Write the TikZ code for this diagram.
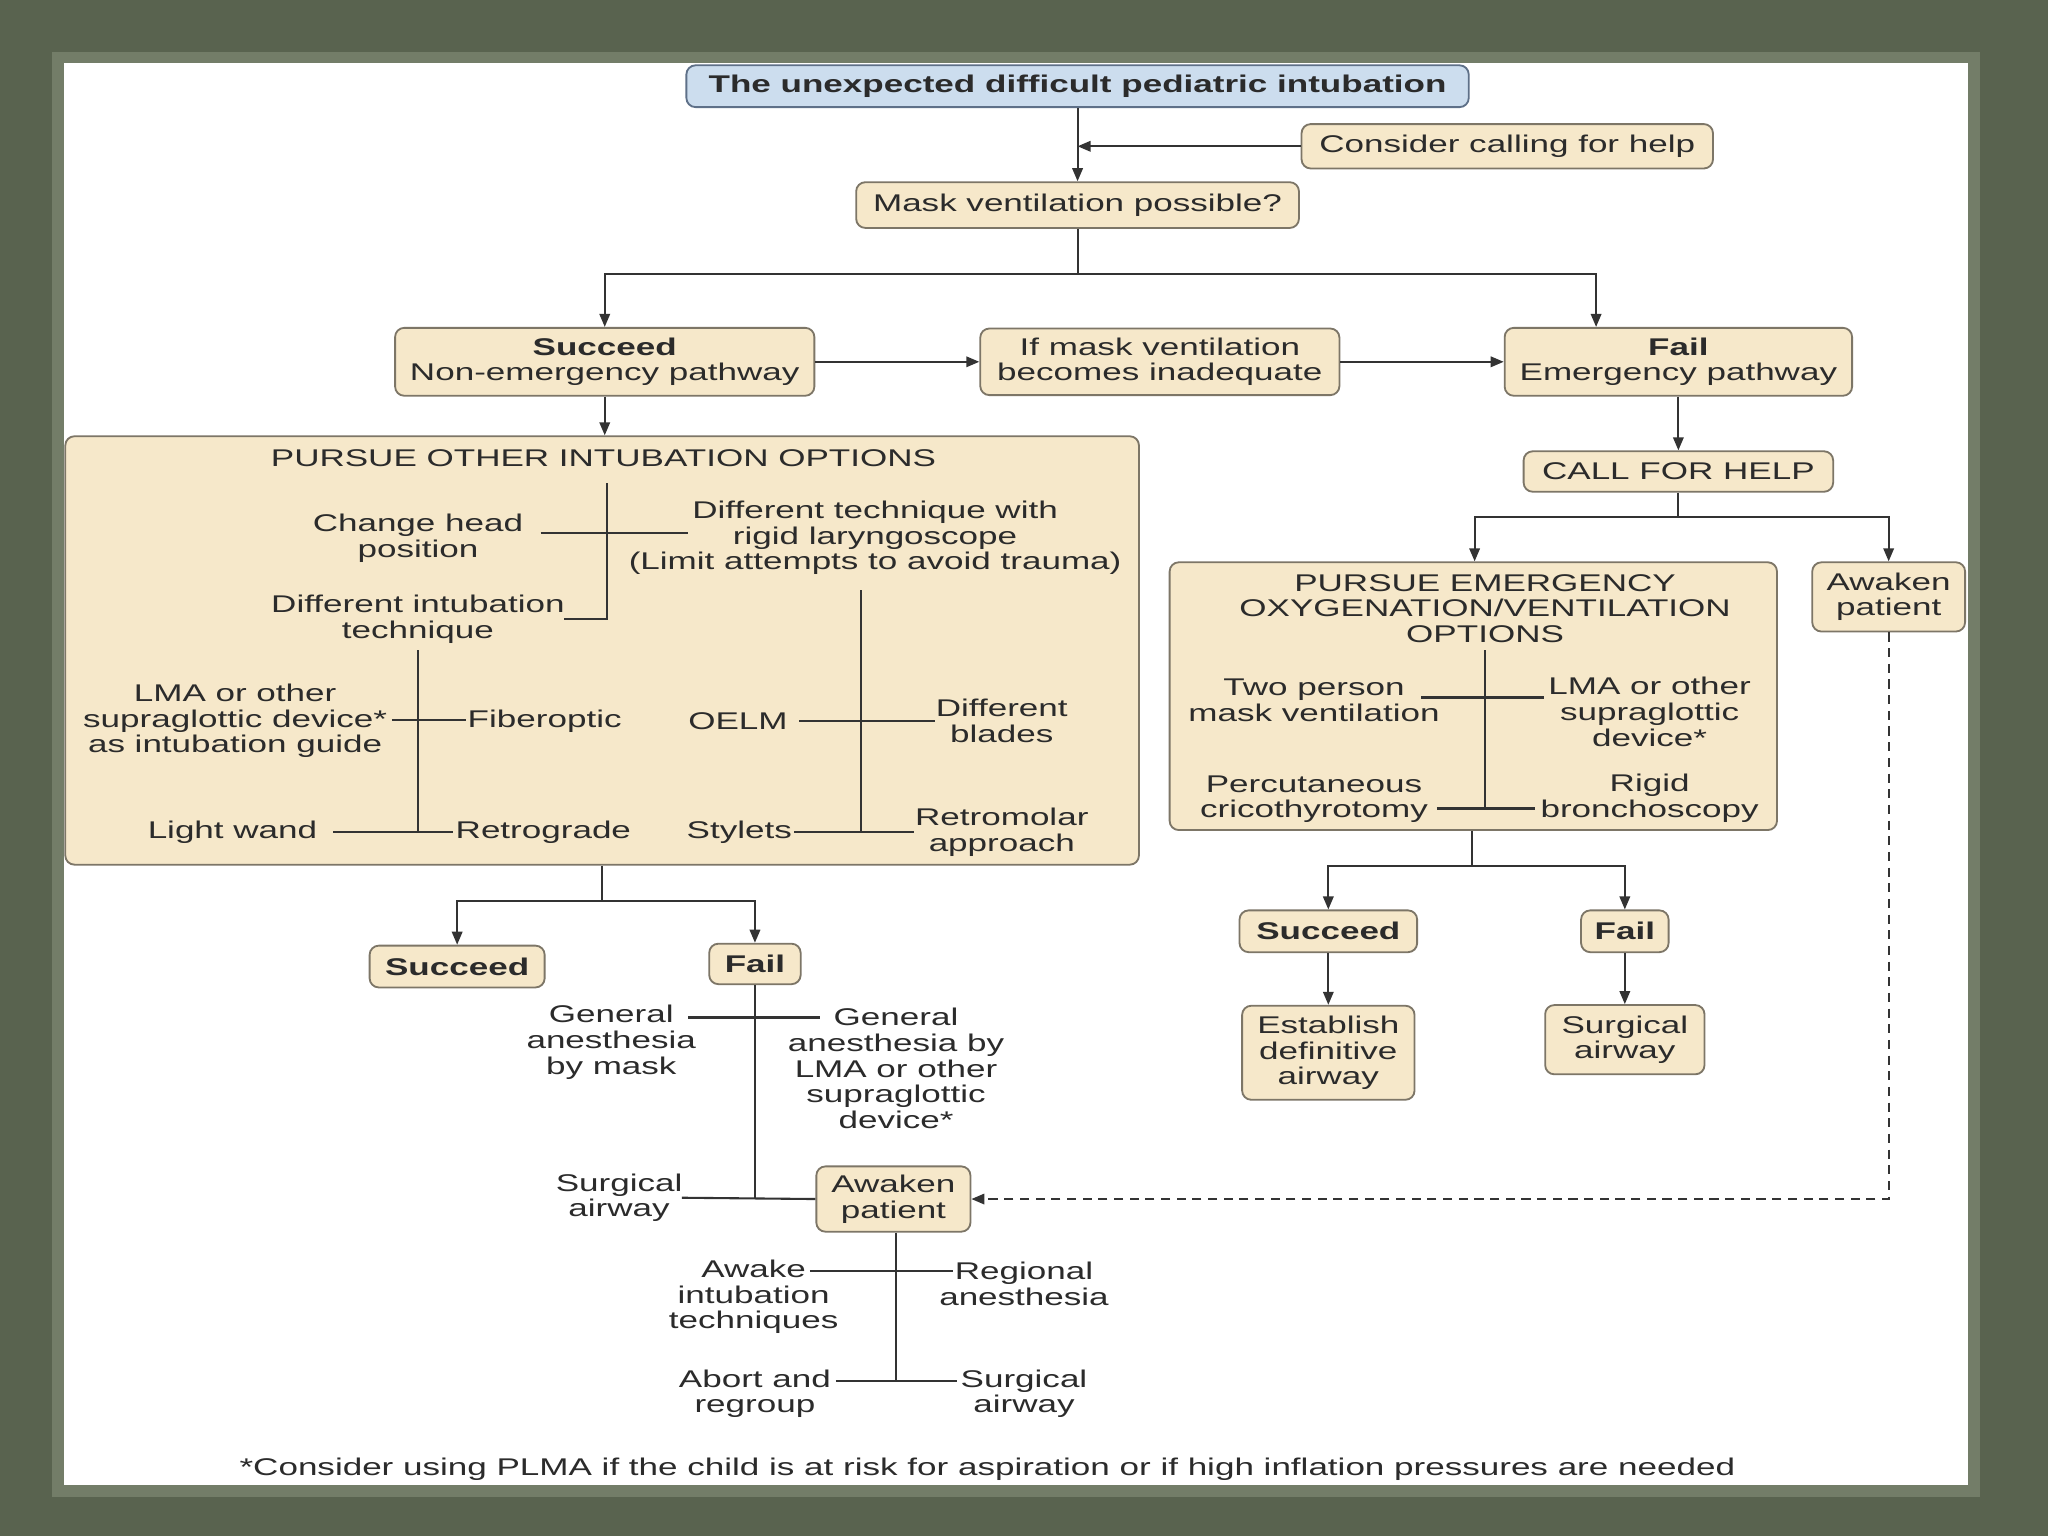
\documentclass[tikz,border=0pt]{standalone}
\usepackage{fontspec}
\setmainfont[FakeStretch=1.45]{Liberation Sans}
\usetikzlibrary{arrows.meta}
\definecolor{bgc}{HTML}{59634F}
\definecolor{bgl}{HTML}{737D68}
\definecolor{boxfill}{HTML}{F6E8CA}
\definecolor{boxline}{HTML}{7D7667}
\definecolor{titfill}{HTML}{CCDDEE}
\definecolor{titline}{HTML}{5E7088}
\definecolor{txt}{HTML}{2B2B2B}
\definecolor{lncol}{HTML}{333333}
\begin{document}
\begin{tikzpicture}[x=1pt,y=-1pt,
  font=\fontsize{18.5}{19.6}\selectfont,
  box/.style={draw=boxline, fill=boxfill, rounded corners=7pt, line width=1.4pt, text=txt, align=center, inner sep=0pt},
  lbl/.style={text=txt, align=center, inner sep=0pt},
  ln/.style={draw=lncol, line width=1.6pt},
  arr/.style={ln, -{Triangle[length=10pt,width=8pt]}}]
\useasboundingbox (0,0) rectangle (1568,1176);
% background
\fill[bgc] (0,0) rectangle (1568,1176);
\fill[bgl] (40,40) rectangle (1516,1146);
\fill[white] (49,48) rectangle (1507,1137);

% top boxes
\node[box, draw=titline, fill=titfill, minimum width=599pt, minimum height=32pt, font=\fontsize{18.5}{19.6}\selectfont\bfseries] (title) at (825,66) {The unexpected difficult pediatric intubation};
\node[box, minimum width=315pt, minimum height=34pt] (help) at (1154,112) {Consider calling for help};
\node[box, minimum width=339pt, minimum height=35pt] (mask) at (825,157) {Mask ventilation possible?};
\node[box, minimum width=321pt, minimum height=52pt] (succ) at (463,277) {\textbf{Succeed}\\Non-emergency pathway};
\node[box, minimum width=275pt, minimum height=51pt] (ifmask) at (888,277) {If mask ventilation\\becomes inadequate};
\node[box, minimum width=266pt, minimum height=52pt] (fail) at (1285,277) {\textbf{Fail}\\Emergency pathway};

\draw[arr] (title) -- (mask);
\draw[arr] (help.west) -- (help.west -| title.south);
\coordinate (j1) at (825,210);
\coordinate (j1l) at (463,210);
\coordinate (j1r) at (1222,210);
\draw[ln] (mask) -- (j1);
\draw[arr] (j1) -- (j1l) -- (succ.north);
\draw[arr] (j1) -- (j1r) -- (j1r |- fail.north);
\draw[arr] (succ.east) -- (ifmask.west);
\draw[arr] (ifmask.east) -- (fail.west);

% left options box
\node[box, minimum width=822pt, minimum height=328pt] (opt) at (461,498) {};
\draw[arr] (succ.south) -- (succ.south |- opt.north);
\node[lbl] (optt) at (462,351) {PURSUE OTHER INTUBATION OPTIONS};
\node[lbl] (chp) at (320,412) {Change head\\position};
\node[lbl] (dtw) at (670,412) {Different technique with\\rigid laryngoscope\\(Limit attempts to avoid trauma)};
\node[lbl] (dit) at (320,474) {Different intubation\\technique};
\node[lbl] (lma) at (180,552) {LMA or other\\supraglottic device*\\as intubation guide};
\node[lbl] (fib) at (417,552) {Fiberoptic};
\node[lbl] (lw) at (178,637) {Light wand};
\node[lbl] (retg) at (416,637) {Retrograde};
\node[lbl] (oelm) at (565,552) {OELM};
\node[lbl] (db) at (767,552) {Different\\blades};
\node[lbl] (sty) at (566,637) {Stylets};
\node[lbl] (retm) at (767,637) {Retromolar\\approach};
\coordinate (a1) at (465,370); \coordinate (a2) at (465,474); \coordinate (a3) at (432,474);
\coordinate (a4) at (414,408); \coordinate (a5) at (527,408);
\draw[ln] (a1) -- (a2) -- (a3);
\draw[ln] (a4) -- (a5);
\coordinate (b1) at (320,498); \coordinate (b2) at (320,637);
\coordinate (b3) at (300,551); \coordinate (b4) at (357,551);
\coordinate (b5) at (255,637); \coordinate (b6) at (347,637);
\draw[ln] (b1) -- (b2); \draw[ln] (b3) -- (b4); \draw[ln] (b5) -- (b6);
\coordinate (c1) at (659,452); \coordinate (c2) at (659,637);
\coordinate (c3) at (612,552); \coordinate (c4) at (716,552);
\coordinate (c5) at (608,637); \coordinate (c6) at (700,637);
\draw[ln] (c1) -- (c2); \draw[ln] (c3) -- (c4); \draw[ln] (c5) -- (c6);

% below left box
\node[box, minimum width=134pt, minimum height=32pt, font=\fontsize{18.5}{19.6}\selectfont\bfseries] (succ2) at (350,740) {Succeed};
\node[box, minimum width=70pt, minimum height=31pt, font=\fontsize{18.5}{19.6}\selectfont\bfseries] (fail2) at (578,738) {Fail};
\coordinate (j2) at (461,690); \coordinate (j2l) at (350,690); \coordinate (j2r) at (578,690);
\draw[ln] (opt.south -| j2) -- (j2);
\draw[arr] (j2) -- (j2l) -- (succ2.north);
\draw[arr] (j2) -- (j2r) -- (fail2.north);
\node[lbl] (gam) at (468,798) {General\\anesthesia\\by mask};
\node[lbl] (gal) at (686,818) {General\\anesthesia by\\LMA or other\\supraglottic\\device*};
\node[lbl] (sa1) at (474,917) {Surgical\\airway};
\node[box, minimum width=118pt, minimum height=50pt] (awk2) at (684,918) {Awaken\\patient};
\coordinate (d1) at (578,917); \coordinate (d2) at (527,779); \coordinate (d3) at (628,779);
\coordinate (d4) at (522,917);
\draw[ln] (fail2.south) -- (d1);
\draw[ln] (d2) -- (d3);
\draw[ln] (d4) -- (awk2.west);
\node[lbl] (ait) at (577,993) {Awake\\intubation\\techniques};
\node[lbl] (rega) at (784,983) {Regional\\anesthesia};
\node[lbl] (abr) at (578,1067) {Abort and\\regroup};
\node[lbl] (sa2) at (784,1067) {Surgical\\airway};
\coordinate (e1) at (686,1057); \coordinate (e2) at (620,973); \coordinate (e3) at (730,973);
\coordinate (e4) at (640,1057); \coordinate (e5) at (733,1057);
\draw[ln] (awk2.south -| e1) -- (e1);
\draw[ln] (e2) -- (e3); \draw[ln] (e4) -- (e5);

% right side
\node[box, minimum width=237pt, minimum height=31pt] (cfh) at (1285,361) {CALL FOR HELP};
\draw[arr] (fail.south) -- (cfh.north);
\node[box, minimum width=465pt, minimum height=205pt] (emo) at (1128,533) {};
\node[box, minimum width=117pt, minimum height=53pt] (awk1) at (1446,457) {Awaken\\patient};
\coordinate (j3) at (1285,396); \coordinate (j3l) at (1129,396); \coordinate (j3r) at (1446,396);
\draw[ln] (cfh.south) -- (j3);
\draw[arr] (j3) -- (j3l) -- (j3l |- emo.north);
\draw[arr] (j3) -- (j3r) -- (awk1.north);
\node[lbl] (emot) at (1137,466) {PURSUE EMERGENCY\\OXYGENATION/VENTILATION\\OPTIONS};
\node[lbl] (tpm) at (1006,536) {Two person\\mask ventilation};
\node[lbl] (lma2) at (1263,545) {LMA or other\\supraglottic\\device*};
\node[lbl] (pct) at (1006,612) {Percutaneous\\cricothyrotomy};
\node[lbl] (rbr) at (1263,611) {Rigid\\bronchoscopy};
\coordinate (f1) at (1137,498); \coordinate (f2) at (1137,619);
\coordinate (f3) at (1088,534); \coordinate (f4) at (1182,534);
\coordinate (f5) at (1100,619); \coordinate (f6) at (1175,619);
\draw[ln] (f1) -- (f2); \draw[ln] (f3) -- (f4); \draw[ln] (f5) -- (f6);

\node[box, minimum width=136pt, minimum height=32pt, font=\fontsize{18.5}{19.6}\selectfont\bfseries] (succ3) at (1017,713) {Succeed};
\node[box, minimum width=67pt, minimum height=32pt, font=\fontsize{18.5}{19.6}\selectfont\bfseries] (fail3) at (1244,713) {Fail};
\coordinate (j4) at (1127,663); \coordinate (j4l) at (1017,663); \coordinate (j4r) at (1244,663);
\draw[ln] (emo.south -| j4) -- (j4);
\draw[arr] (j4) -- (j4l) -- (succ3.north);
\draw[arr] (j4) -- (j4r) -- (fail3.north);
\node[box, minimum width=132pt, minimum height=72pt] (est) at (1017,806) {Establish\\definitive\\airway};
\node[box, minimum width=122pt, minimum height=53pt] (sa3) at (1244,796) {Surgical\\airway};
\draw[arr] (succ3.south) -- (est.north);
\draw[arr] (fail3.south) -- (sa3.north);

% dashed return
\draw[arr, dash pattern=on 7pt off 5pt] (awk1.south) |- (awk2.east);

% footnote
\node[lbl] (foot) at (756,1125) {*Consider using PLMA if the child is at risk for aspiration or if high inflation pressures are needed};
\end{tikzpicture}
\end{document}
